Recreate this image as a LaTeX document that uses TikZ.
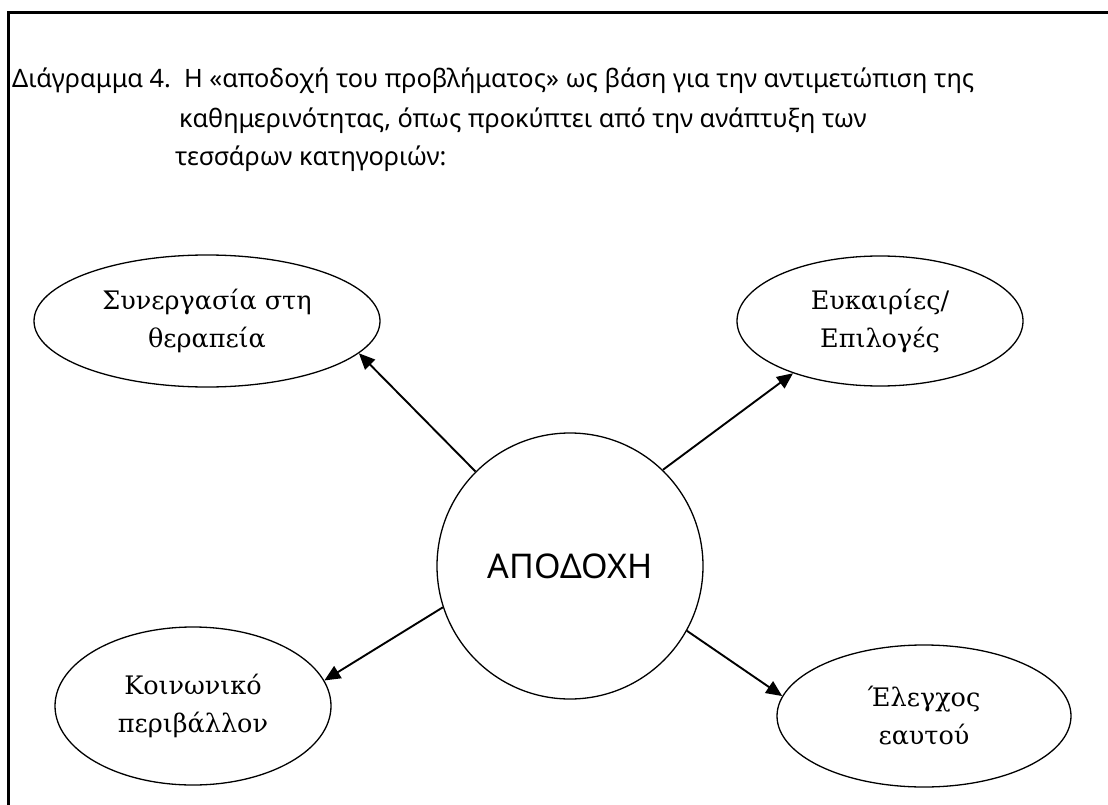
\documentclass[tikz,border=0pt]{standalone}
\usepackage{fontspec}
\setmainfont{DejaVu Serif}
\newfontfamily\titlefont{Noto Sans}
\usetikzlibrary{shapes.geometric,arrows.meta}
\tikzset{
  bub/.style={ellipse, draw, line width=1.3pt, inner sep=0pt, align=center,
    font=\fontsize{25.5}{38}\selectfont},
  conn/.style={line width=1.9pt, -{Triangle[length=16pt,width=14pt]}},
  ttl/.style={anchor=base west, inner sep=0pt, font=\titlefont\fontsize{25.3}{30}\selectfont}
}
\begin{document}
\begin{tikzpicture}[x=1pt,y=-1pt]
\useasboundingbox (0,0) rectangle (1108,805);
\draw[line width=3pt] (8,807) -- (8,13) -- (1110,13);
\node[ttl] (t1) at (12,88) {Διάγραμμα 4.\ \ Η «αποδοχή του προβλήματος» ως βάση για την αντιμετώπιση της};
\node[ttl] (t2) at (179,128) {καθημερινότητας, όπως προκύπτει από την ανάπτυξη των};
\node[ttl] (t3) at (175,166) {τεσσάρων κατηγοριών:};
\node[circle, draw, line width=1.3pt, minimum size=266pt, inner sep=0pt,
  font=\titlefont\fontsize{34}{40}\selectfont] (c) at (570,566) {ΑΠΟΔΟΧΗ};
\node[bub, minimum width=346pt, minimum height=132pt] (tl) at (207,321) {Συνεργασία στη\\θεραπεία};
\node[bub, minimum width=286pt, minimum height=130pt] (tr) at (880,321) {Ευκαιρίες/\\Επιλογές};
\node[bub, minimum width=276pt, minimum height=158pt] (bl) at (193,706) {Κοινωνικό\\περιβάλλον};
\node[bub, minimum width=294pt, minimum height=142pt] (br) at (924,716) {Έλεγχος\\εαυτού};
\draw[conn] (c.135) -- (tl.-12.8);
\draw[conn] (c.46.5) -- (tr.211.9);
\draw[conn] (c.198.6) -- (bl.11.7);
\draw[conn] (c.-29) -- (br.172.4);
\end{tikzpicture}
\end{document}
